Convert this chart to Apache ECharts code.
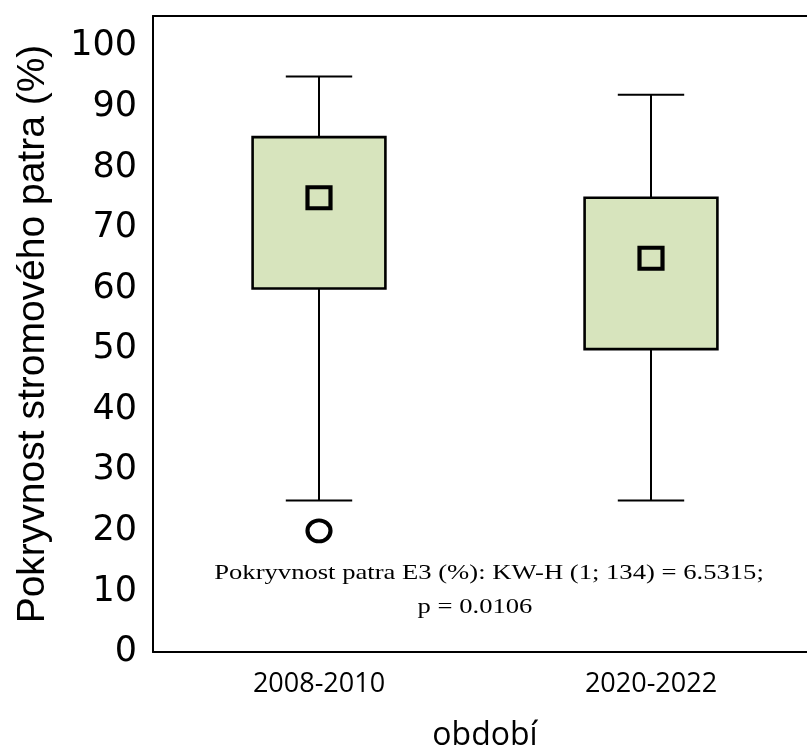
<!DOCTYPE html>
<html>
<head>
<meta charset="utf-8">
<script src="https://cdn.jsdelivr.net/npm/echarts@6/dist/echarts.min.js"></script>
<style>
  html, body { margin: 0; padding: 0; background: #ffffff; overflow: hidden; }
  #chart { width: 807px; height: 749px; }
</style>
</head>
<body>
<div id="chart"></div>
<script>
// Periods on the x axis
const periods = ['2008-2010', '2020-2022'];
// Box statistics per period: [lower whisker, Q1, median, Q3, upper whisker]
const lowerWhisker = [25, 25];
const quartile1 = [60, 50];
const median = [75, 65];
const quartile3 = [85, 75];
const upperWhisker = [95, 92];
// Outliers: [period index, value]
const outliers = [[0, 20]];
// Y axis ticks
const yTicks = [0, 10, 20, 30, 40, 50, 60, 70, 80, 90, 100];

const boxRows = periods.map((p, i) => [i, lowerWhisker[i], quartile1[i], median[i], quartile3[i], upperWhisker[i]]);
const medianPoints = periods.map((p, i) => [i, median[i]]);

const chart = echarts.init(document.getElementById('chart'));

function renderBox(params, api) {
  const x = api.value(0);
  const lo = api.coord([x, api.value(1)]);
  const q1 = api.coord([x, api.value(2)]);
  const q3 = api.coord([x, api.value(4)]);
  const hi = api.coord([x, api.value(5)]);
  const band = api.size([1, 0])[0];
  const bw = band * 0.4;
  const cw = band * 0.2;
  const cx = lo[0];
  const line = { stroke: '#000', lineWidth: 2 };
  return {
    type: 'group',
    children: [
      { type: 'line', shape: { x1: cx, y1: hi[1], x2: cx, y2: q3[1] }, style: line },
      { type: 'line', shape: { x1: cx, y1: q1[1], x2: cx, y2: lo[1] }, style: line },
      { type: 'line', shape: { x1: cx - cw / 2, y1: hi[1], x2: cx + cw / 2, y2: hi[1] }, style: line },
      { type: 'line', shape: { x1: cx - cw / 2, y1: lo[1], x2: cx + cw / 2, y2: lo[1] }, style: line },
      { type: 'rect', shape: { x: cx - bw / 2, y: q3[1], width: bw, height: q1[1] - q3[1] },
        style: { fill: '#d7e4bd', stroke: '#000', lineWidth: 2.6 } }
    ]
  };
}

chart.setOption({
  backgroundColor: '#ffffff',
  animation: false,
  // the plot frame runs a little past the right edge of the canvas
  grid: { left: 153, top: 16, right: -10, bottom: 97, outerBoundsMode: 'none', containLabel: false },
  xAxis: [
    {
      type: 'category',
      data: periods,
      position: 'bottom',
      name: 'období',
      nameLocation: 'middle',
      nameGap: 68,
      nameTextStyle: { fontFamily: 'Open Sans', fontSize: 32, color: '#000' },
      axisLine: { lineStyle: { color: '#000', width: 2 } },
      axisTick: { inside: true, alignWithLabel: true, length: 5, lineStyle: { color: '#000', width: 2 } },
      axisLabel: { fontFamily: 'Open Sans', fontSize: 27, color: '#000', margin: 19 },
      splitLine: { show: false }
    },
    {
      type: 'category',
      data: periods,
      position: 'top',
      axisLine: { lineStyle: { color: '#000', width: 2 } },
      axisTick: { inside: true, alignWithLabel: true, length: 5, lineStyle: { color: '#000', width: 2 } },
      axisLabel: { show: false },
      splitLine: { show: false }
    }
  ],
  yAxis: {
    type: 'value',
    min: 0,
    max: 105,
    interval: 10,
    name: 'Pokryvnost stromového patra (%)',
    nameLocation: 'middle',
    nameGap: 100,
    nameTextStyle: { fontFamily: 'Liberation Sans', fontSize: 39, color: '#000' },
    axisLine: { show: true, lineStyle: { color: '#000', width: 2 } },
    axisTick: { inside: true, length: 6, lineStyle: { color: '#000', width: 2 } },
    axisLabel: {
      fontFamily: 'DejaVu Sans', fontSize: 35, color: '#000', margin: 16,
      formatter: v => (yTicks.indexOf(v) >= 0 ? String(v) : '')
    },
    splitLine: { show: false }
  },
  series: [
    {
      type: 'custom',
      renderItem: renderBox,
      data: boxRows,
      encode: { x: 0, y: [1, 2, 3, 4, 5] },
      z: 2
    },
    {
      type: 'scatter',
      data: medianPoints,
      symbol: 'rect',
      symbolSize: [23, 21],
      itemStyle: { color: 'rgba(0,0,0,0)', borderColor: '#000', borderWidth: 4, opacity: 1 },
      z: 3
    },
    {
      type: 'scatter',
      data: outliers,
      symbol: 'circle',
      symbolSize: [23, 21],
      itemStyle: { color: 'rgba(0,0,0,0)', borderColor: '#000', borderWidth: 4, opacity: 1 },
      z: 3
    }
  ],
  graphic: [
    {
      type: 'text', x: 489, y: 573, scaleX: 1.21,
      style: {
        text: 'Pokryvnost patra E3 (%): KW-H (1; 134) = 6.5315;',
        fontFamily: 'Liberation Serif', fontSize: 22, fill: '#000',
        textAlign: 'center', textVerticalAlign: 'middle'
      }
    },
    {
      type: 'text', x: 475, y: 607, scaleX: 1.21,
      style: {
        text: 'p = 0.0106',
        fontFamily: 'Liberation Serif', fontSize: 22, fill: '#000',
        textAlign: 'center', textVerticalAlign: 'middle'
      }
    }
  ]
});
</script>
</body>
</html>
